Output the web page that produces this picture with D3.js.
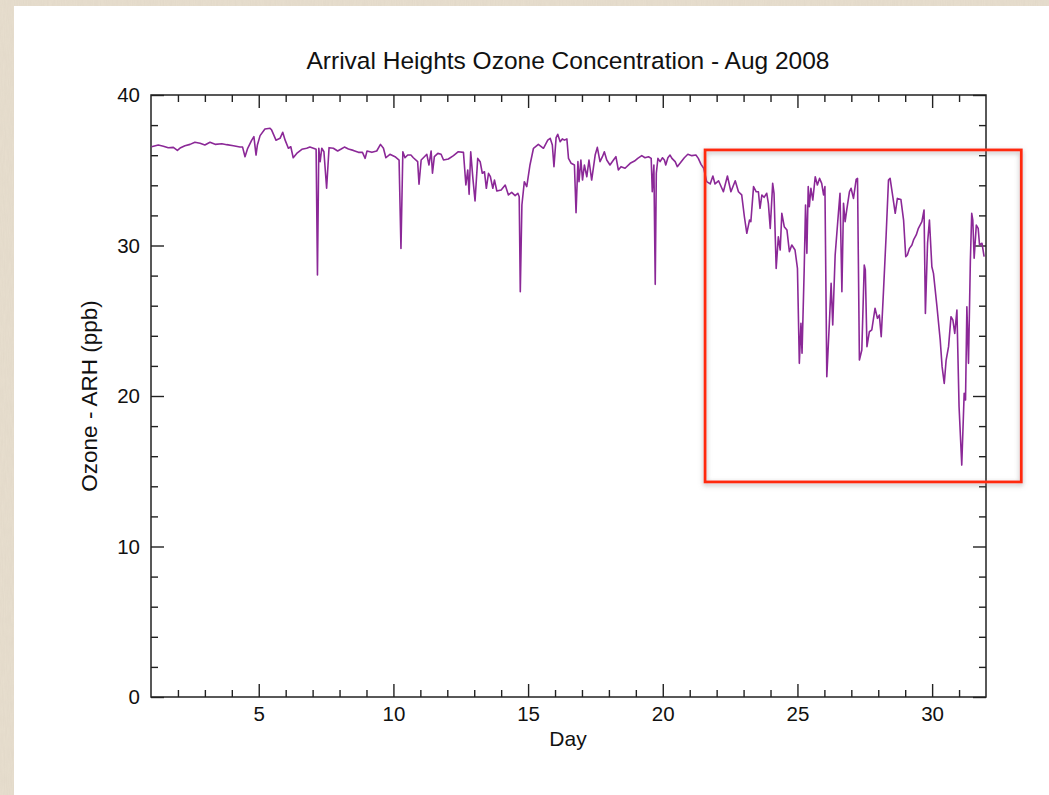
<!DOCTYPE html>
<html>
<head>
<meta charset="utf-8">
<script src="https://cdn.jsdelivr.net/npm/d3@7"></script>
<style>
  html, body { margin: 0; padding: 0; background: #e6dccb; }
  svg { display: block; }
  text { font-family: "Liberation Sans", Arial, Helvetica, sans-serif; fill: #111; }
</style>
</head>
<body>
<svg id="chart" width="1049" height="795"></svg>
<script>
// ---- Data ----
const title = "Arrival Heights Ozone Concentration - Aug 2008";
const xLabel = "Day";
const yLabel = "Ozone - ARH (ppb)";
const xMajorTicks = [5, 10, 15, 20, 25, 30];
const yMajorTicks = [0, 10, 20, 30, 40];

const days = [
  1.02,1.27,1.46,1.64,1.83,1.98,2.10,2.26,2.45,2.63,2.82,3.00,3.19,3.38,3.63,3.81,4.06,4.30,4.40,4.49,
  4.59,4.74,4.82,4.90,4.95,5.05,5.23,5.42,5.48,5.64,5.79,5.89,5.98,6.10,6.19,6.28,6.41,6.60,6.78,6.90,
  7.03,7.13,7.18,7.23,7.28,7.34,7.42,7.52,7.61,7.77,7.93,8.06,8.18,8.33,8.51,8.70,8.85,8.95,9.02,9.20,
  9.38,9.52,9.63,9.72,9.87,10.06,10.21,10.28,10.35,10.43,10.53,10.65,10.74,10.90,10.95,11.03,11.15,11.24,11.32,11.40,
  11.45,11.52,11.65,11.77,11.86,12.04,12.23,12.41,12.60,12.69,12.76,12.81,12.87,12.95,13.03,13.13,13.22,13.30,13.38,13.45,
  13.53,13.60,13.69,13.75,13.84,14.00,14.15,14.27,14.39,14.52,14.62,14.67,14.71,14.77,14.86,14.95,15.07,15.20,15.38,15.57,
  15.73,15.82,15.90,15.96,16.04,16.10,16.19,16.27,16.35,16.44,16.50,16.60,16.72,16.78,16.85,16.89,16.96,17.02,17.09,17.18,
  17.26,17.36,17.49,17.57,17.67,17.76,17.83,17.92,18.04,18.17,18.26,18.35,18.45,18.60,18.79,18.95,19.07,19.22,19.34,19.47,
  19.57,19.61,19.67,19.72,19.76,19.82,19.90,19.99,20.06,20.11,20.19,20.27,20.34,20.46,20.54,20.64,20.80,20.93,21.08,21.23,
  21.32,21.42,21.52,21.63,21.76,21.86,21.94,22.07,22.25,22.40,22.53,22.69,22.81,22.93,23.03,23.12,23.22,23.27,23.37,23.47,
  23.55,23.61,23.68,23.76,23.86,23.92,23.99,24.08,24.13,24.21,24.29,24.36,24.42,24.51,24.61,24.70,24.79,24.91,25.00,25.07,
  25.13,25.17,25.25,25.30,25.35,25.40,25.44,25.50,25.57,25.66,25.74,25.82,25.90,25.97,26.02,26.09,26.19,26.25,26.31,26.40,
  26.52,26.58,26.65,26.71,26.77,26.83,26.93,26.99,27.08,27.18,27.23,27.30,27.39,27.48,27.52,27.58,27.67,27.76,27.88,27.97,
  28.04,28.11,28.19,28.29,28.38,28.44,28.54,28.63,28.71,28.84,28.94,29.02,29.08,29.16,29.25,29.31,29.41,29.49,29.62,29.70,
  29.75,29.83,29.90,29.99,30.05,30.18,30.30,30.37,30.45,30.52,30.61,30.70,30.77,30.84,30.92,31.00,31.10,31.19,31.24,31.29,
  31.35,31.42,31.47,31.51,31.56,31.64,31.71,31.76,31.85,31.93
];
const ozone = [
  36.56,36.68,36.60,36.50,36.52,36.32,36.50,36.63,36.72,36.86,36.79,36.68,36.86,36.72,36.76,36.70,36.63,36.54,36.54,35.90,
  36.46,37.00,37.23,36.01,36.68,37.30,37.74,37.79,37.67,37.00,37.12,37.52,37.00,36.46,36.56,35.83,36.12,36.39,36.46,36.54,
  36.46,36.39,28.04,36.46,35.57,36.46,36.23,33.80,36.50,36.46,36.28,36.41,36.54,36.41,36.32,36.19,36.19,35.79,36.28,36.19,
  36.28,36.72,36.46,35.83,36.06,35.90,35.68,29.81,36.23,35.83,36.01,36.01,35.83,35.57,34.07,35.68,35.90,36.06,35.35,36.28,
  34.80,35.90,36.12,36.06,35.68,35.75,35.97,36.23,36.19,34.02,35.02,33.40,36.23,34.46,32.96,35.79,35.57,34.80,34.90,33.80,
  34.80,34.57,33.80,34.35,33.62,33.69,34.02,33.36,33.53,33.31,33.47,33.24,26.93,32.69,34.24,33.91,35.35,36.46,36.72,36.46,
  37.00,37.12,36.68,35.24,37.17,37.39,36.90,37.08,37.00,37.08,35.79,35.46,35.35,32.18,35.57,34.24,35.68,34.35,35.35,34.57,
  35.68,34.35,36.01,36.52,35.57,35.90,36.23,35.68,35.35,35.68,35.90,35.02,35.24,35.13,35.46,35.61,35.79,35.97,35.83,35.90,
  35.79,33.57,35.35,27.42,34.80,35.79,35.57,35.83,35.68,35.35,35.83,36.01,35.79,35.57,35.24,35.46,35.83,36.06,35.97,36.01,
  35.79,35.39,35.13,34.24,34.09,34.62,34.09,34.30,33.57,34.62,33.57,34.30,33.57,33.36,31.91,30.81,31.69,31.58,33.91,33.57,
  33.57,32.47,33.36,33.20,33.47,32.80,31.14,34.13,33.47,28.48,30.58,29.70,32.14,31.25,31.03,29.59,30.03,29.70,28.48,22.17,
  24.83,22.84,28.37,32.69,29.48,33.91,32.58,33.80,33.02,34.57,34.02,34.46,34.13,33.36,33.91,21.28,25.05,27.49,24.72,29.37,
  32.14,33.47,26.93,32.80,31.58,32.36,33.57,33.80,33.13,34.39,34.46,22.39,23.06,28.70,28.37,23.28,24.27,24.39,25.83,25.16,
  25.38,23.94,26.82,30.58,34.35,34.46,33.24,32.14,33.13,33.06,31.69,29.26,29.37,29.81,30.03,30.37,30.70,31.14,31.58,32.36,
  25.49,30.15,31.69,28.59,28.15,25.93,23.72,21.95,20.84,22.39,23.28,25.27,25.05,24.16,25.71,19.29,15.41,20.18,19.73,25.93,
  22.17,29.04,32.14,31.69,29.15,31.36,31.14,30.03,30.15,29.26
];
// highlighted region (annotation box), in data units
const boxDays = [21.57, 33.31];
const boxOzone = [14.29, 36.35];

// ---- Drawing ----
const W = 1049, H = 795;
const margin = { left: 151, right: 1049 - 986, top: 95, bottom: 795 - 697 };
const svg = d3.select("#chart");

const defs = svg.append("defs");
const noise = defs.append("filter").attr("id", "paper")
  .attr("x", 0).attr("y", 0).attr("width", "100%").attr("height", "100%");
noise.append("feTurbulence").attr("type", "fractalNoise").attr("baseFrequency", "0.9 0.08")
  .attr("numOctaves", 2).attr("seed", 3).attr("result", "n");
noise.append("feColorMatrix").attr("type", "matrix")
  .attr("values", "0 0 0 0 0.55  0 0 0 0 0.48  0 0 0 0 0.40  0 0 0 0.35 0");
const shadow = defs.append("filter").attr("id", "shadow")
  .attr("x", "-10%").attr("y", "-10%").attr("width", "120%").attr("height", "120%");
shadow.append("feDropShadow").attr("dx", 0).attr("dy", 2).attr("stdDeviation", 2.5)
  .attr("flood-color", "#777").attr("flood-opacity", 0.55);

// background paper and white panel
svg.append("rect").attr("width", W).attr("height", H).attr("fill", "#e8dfcf");
svg.append("rect").attr("width", W).attr("height", H).attr("filter", "url(#paper)").attr("opacity", 0.5);
svg.append("rect").attr("x", 14).attr("y", 6).attr("width", W - 14).attr("height", H - 6).attr("fill", "#ffffff");

const x = d3.scaleLinear().domain([1, 32]).range([margin.left, W - margin.right]);
const y = d3.scaleLinear().domain([0, 40]).range([H - margin.bottom, margin.top]);

const allDays = d3.range(2, 32);
const minorX = allDays.filter(d => d % 5 !== 0);
const minorY = d3.range(2, 40, 2).filter(v => v % 10 !== 0);

function styleAxis(g) {
  g.select(".domain").remove();
  g.selectAll("line").attr("stroke", "#222").attr("stroke-width", 1.4);
  g.selectAll("text").attr("font-size", 20.5).attr("fill", "#111")
    .attr("font-family", '"Liberation Sans", Arial, Helvetica, sans-serif');
}

const bottomY = y(0), topY = y(40), leftX = x(1), rightX = x(32);

// bottom axis
svg.append("g").attr("transform", `translate(0,${bottomY})`)
  .call(d3.axisBottom(x).tickValues(xMajorTicks).tickSize(-13).tickPadding(9).tickFormat(d3.format("d")))
  .call(styleAxis);
svg.append("g").attr("transform", `translate(0,${bottomY})`)
  .call(d3.axisBottom(x).tickValues(minorX).tickSize(-7).tickFormat(""))
  .call(styleAxis);
// top axis
svg.append("g").attr("transform", `translate(0,${topY})`)
  .call(d3.axisTop(x).tickValues(xMajorTicks).tickSize(-13).tickFormat(""))
  .call(styleAxis);
svg.append("g").attr("transform", `translate(0,${topY})`)
  .call(d3.axisTop(x).tickValues(minorX).tickSize(-7).tickFormat(""))
  .call(styleAxis);
// left axis
svg.append("g").attr("transform", `translate(${leftX},0)`)
  .call(d3.axisLeft(y).tickValues(yMajorTicks).tickSize(-13).tickPadding(11).tickFormat(d3.format("d")))
  .call(styleAxis);
svg.append("g").attr("transform", `translate(${leftX},0)`)
  .call(d3.axisLeft(y).tickValues(minorY).tickSize(-7).tickFormat(""))
  .call(styleAxis);
// right axis
svg.append("g").attr("transform", `translate(${rightX},0)`)
  .call(d3.axisRight(y).tickValues(yMajorTicks).tickSize(-13).tickFormat(""))
  .call(styleAxis);
svg.append("g").attr("transform", `translate(${rightX},0)`)
  .call(d3.axisRight(y).tickValues(minorY).tickSize(-7).tickFormat(""))
  .call(styleAxis);

// frame
svg.append("rect").attr("x", leftX).attr("y", topY)
  .attr("width", rightX - leftX).attr("height", bottomY - topY)
  .attr("fill", "none").attr("stroke", "#222").attr("stroke-width", 1.5);

// data line
const pts = days.map((d, i) => [d, ozone[i]]);
svg.append("path").datum(pts)
  .attr("fill", "none").attr("stroke", "#8b2897").attr("stroke-width", 1.6)
  .attr("stroke-linejoin", "round")
  .attr("d", d3.line().x(d => x(d[0])).y(d => y(d[1])));

// annotation box
svg.append("rect")
  .attr("x", x(boxDays[0])).attr("y", y(boxOzone[1]))
  .attr("width", x(boxDays[1]) - x(boxDays[0])).attr("height", y(boxOzone[0]) - y(boxOzone[1]))
  .attr("fill", "none").attr("stroke", "#ff2a0c").attr("stroke-width", 2.8)
  .attr("filter", "url(#shadow)");

// titles
svg.append("text").attr("x", 568).attr("y", 69)
  .attr("text-anchor", "middle").attr("font-size", 24.5).text(title);
svg.append("text").attr("x", 568).attr("y", 746)
  .attr("text-anchor", "middle").attr("font-size", 21).text(xLabel);
svg.append("text").attr("transform", `translate(97,${(topY + bottomY) / 2}) rotate(-90)`)
  .attr("text-anchor", "middle").attr("font-size", 22.5).text(yLabel);
</script>
</body>
</html>
